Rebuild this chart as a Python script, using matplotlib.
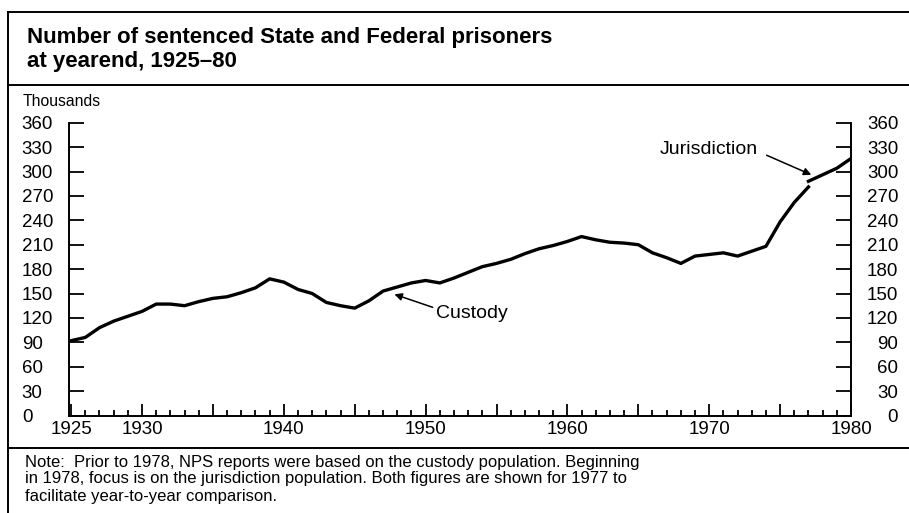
import matplotlib
matplotlib.use("Agg")
import matplotlib.pyplot as plt
from matplotlib.lines import Line2D

plt.rcParams["font.family"] = ["Liberation Sans", "DejaVu Sans"]

# Sentenced prisoners (thousands)
custody_years = list(range(1925, 1978))
custody = [92, 96, 108, 116, 122, 128, 137, 137, 135, 140,
           144, 146, 151, 157, 168, 164, 155, 150, 139, 135,
           132, 141, 153, 158, 163, 166, 163, 169, 176, 183,
           187, 192, 199, 205, 209, 214, 220, 216, 213, 212,
           210, 200, 194, 187, 196, 198, 200, 196, 202, 208,
           238, 262, 281]
jurisdiction_years = [1977, 1978, 1979, 1980]
jurisdiction = [288, 296, 304, 316]

y_ticks = list(range(0, 361, 30))
x_major = [1925, 1930, 1940, 1950, 1960, 1970, 1980]
x_major_marks = list(range(1925, 1981, 5))

title_lines = ["Number of sentenced State and Federal prisoners",
               "at yearend, 1925\u201380"]
note_lines = ["Note:  Prior to 1978, NPS reports were based on the custody population. Beginning",
              "in 1978, focus is on the jurisdiction population. Both figures are shown for 1977 to",
              "facilitate year-to-year comparison."]

W, H = 909, 513
fig = plt.figure(figsize=(W / 100, H / 100), dpi=100)
ax = fig.add_axes([69 / W, 1 - 415.5 / H, (851 - 69) / W, (415.5 - 122.7) / H])

ax.plot(custody_years, custody, color="black", linewidth=2.4, solid_joinstyle="round")
ax.plot(jurisdiction_years, jurisdiction, color="black", linewidth=2.4, solid_joinstyle="round")

ax.set_xlim(1924.85, 1980)
ax.set_ylim(0, 360)
ax.spines["top"].set_visible(False)
for side in ("left", "right", "bottom"):
    ax.spines[side].set_linewidth(1.4)

ax.set_yticks(y_ticks)
ax.tick_params(axis="y", direction="in", length=11, width=1.3, left=True, right=True,
               labelleft=True, labelright=True, pad=34, labelsize=13.5)
for lab in ax.get_yticklabels():
    lab.set_horizontalalignment("left")
for t in ax.yaxis.get_major_ticks():
    t.label2.set_horizontalalignment("right")

ax.set_xticks(x_major_marks)
ax.set_xticklabels([str(y) if y in x_major else "" for y in x_major_marks])
ax.set_xticks(range(1925, 1981), minor=True)
ax.tick_params(axis="x", which="major", direction="in", length=9, width=1.3,
               pad=4, labelsize=13.5)
ax.tick_params(axis="x", which="minor", direction="in", length=4.5, width=1.3)

ax.annotate("", xy=(1947.8, 149), xytext=(1950.5, 133),
            arrowprops=dict(arrowstyle="-|>", color="black", lw=1.1,
                            mutation_scale=11, shrinkA=0, shrinkB=0))
ax.text(1950.75, 126, "Custody", ha="left", va="center", fontsize=14)
ax.annotate("", xy=(1977.2, 296), xytext=(1974.05, 320),
            arrowprops=dict(arrowstyle="-|>", color="black", lw=1.1,
                            mutation_scale=11, shrinkA=0, shrinkB=0))
ax.text(1973.4, 326.5, "Jurisdiction", ha="right", va="center", fontsize=14)

# frame and separators of the figure panel
frame = dict(color="black", linewidth=1.4)
fig.add_artist(Line2D([8 / W, 8 / W], [0, 1 - 12 / H], transform=fig.transFigure, **frame))
fig.add_artist(Line2D([8 / W, 1], [1 - 12 / H, 1 - 12 / H], transform=fig.transFigure, **frame))
fig.add_artist(Line2D([8 / W, 1], [1 - 85 / H, 1 - 85 / H], transform=fig.transFigure, **frame))
fig.add_artist(Line2D([8 / W, 1], [1 - 448 / H, 1 - 448 / H], transform=fig.transFigure, **frame))

for i, line in enumerate(title_lines):
    fig.text(27 / W, 1 - (37 + 25 * i) / H, line, ha="left", va="center",
             fontsize=16, fontweight="bold")
fig.text(23 / W, 1 - 101 / H, "Thousands", ha="left", va="center", fontsize=11.3)
for i, line in enumerate(note_lines):
    fig.text(25 / W, 1 - (462 + 17 * i) / H, line, ha="left", va="center",
             fontsize=12)

fig.savefig("out.png", dpi=100)
